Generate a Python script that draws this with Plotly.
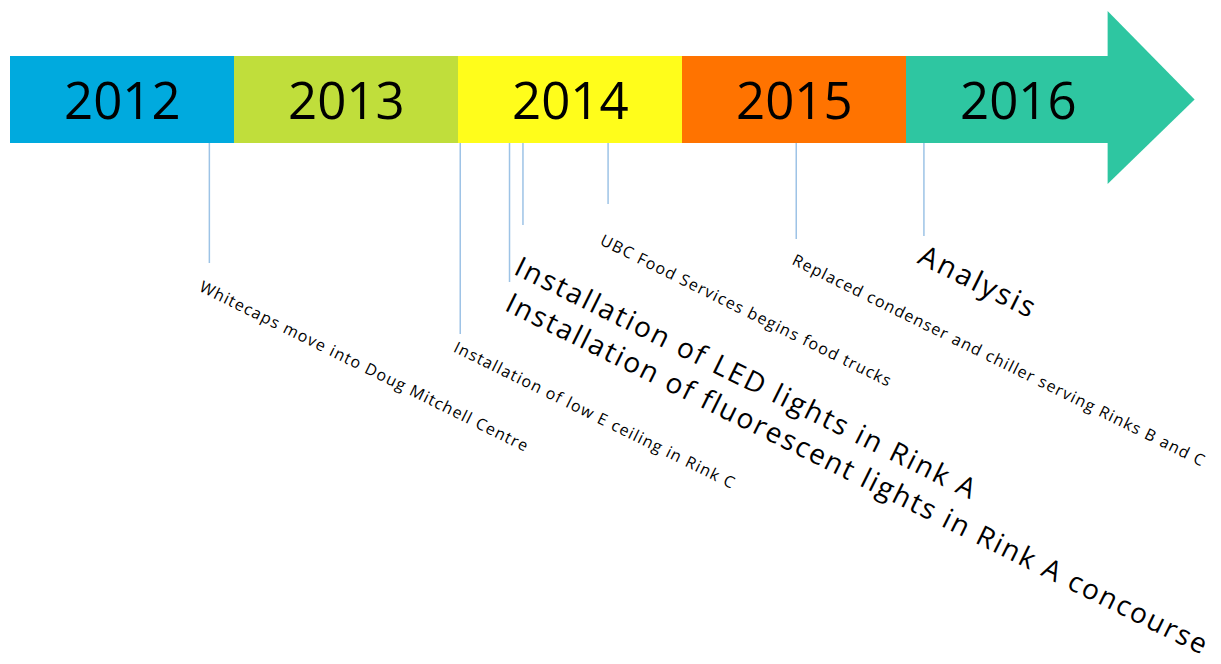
import plotly.graph_objects as go

# Timeline data
years = [2012, 2013, 2014, 2015, 2016]
year_spans = [1, 1, 1, 1, 0.9]
year_colors = ['#00AADE', '#C0DE3B', '#FFFD1B', '#FF7300', '#2EC6A1']

event_labels = [
    'Whitecaps move into Doug Mitchell Centre',
    'Installation of low E ceiling in Rink C',
    'Installation of fluorescent lights in Rink A concourse',
    'Installation of LED lights in Rink A',
    'UBC Food Services begins food trucks',
    'Replaced condenser and chiller serving Rinks B and C',
    'Analysis',
]
event_dates = [2012.89, 2014.01, 2014.23, 2014.29, 2014.67, 2015.51, 2016.08]

# layout of stems and labels (pixel units)
stem_ends = [263, 334, 282, 225, 204, 239, 236]
label_dx = [155, 135, 349, 224, 138, 203, 55]
label_y = [366, 415, 473, 377, 310, 360, 280]
label_size = [16, 16, 28, 28, 16, 16, 29]
label_spacing = [1.2, 1.2, 2.0, 2.2, 1.2, 1.2, 2.4]

PX_PER_YEAR = 224
X0 = 2012 - 10 / PX_PER_YEAR
BAR_TOP, BAR_BOT = 56, 143
BAR_MID = (BAR_TOP + BAR_BOT) / 2
FONT = 'Open Sans'

fig = go.Figure()

# coloured year segments
fig.add_trace(go.Bar(
    x=year_spans, base=years, y=[BAR_MID] * len(years),
    orientation='h', width=BAR_BOT - BAR_TOP,
    marker=dict(color=year_colors, line=dict(width=0)),
    hoverinfo='skip', showlegend=False
))

# arrow head
head_x = years[-1] + year_spans[-1]
fig.add_shape(type='path',
              path=f'M {head_x},11 L {head_x + 87 / PX_PER_YEAR},{BAR_MID} L {head_x},184 Z',
              fillcolor=year_colors[-1], line=dict(width=0), layer='below')

# stems
sx, sy = [], []
for d, e in zip(event_dates, stem_ends):
    sx += [d, d, None]
    sy += [BAR_BOT, e, None]
fig.add_trace(go.Scatter(x=sx, y=sy, mode='lines',
                         line=dict(color='#9DC3E6', width=1.5),
                         hoverinfo='skip', showlegend=False))

# year labels
for y in years:
    fig.add_annotation(x=y + 0.5, y=BAR_MID - 1, text=str(y), showarrow=False,
                       font=dict(family=FONT, size=51, color='black'))

# event labels
for lab, d, dx, ly, fs, ls in zip(event_labels, event_dates, label_dx, label_y,
                                  label_size, label_spacing):
    fig.add_annotation(x=d + dx / PX_PER_YEAR, y=ly,
                       text=f'<span style="letter-spacing:{ls}px">{lab}</span>',
                       showarrow=False, textangle=26.3,
                       xanchor='center', yanchor='middle',
                       font=dict(family=FONT, size=fs, color='black'))

fig.update_layout(
    width=1221, height=664,
    margin=dict(l=0, r=0, t=0, b=0),
    paper_bgcolor='white', plot_bgcolor='white',
    xaxis=dict(range=[X0, X0 + 1221 / PX_PER_YEAR], visible=False, fixedrange=True),
    yaxis=dict(range=[664, 0], visible=False, fixedrange=True),
    bargap=0
)

fig.write_html("out.html", config={'displayModeBar': False},
               post_script="document.body.style.margin='0';")
